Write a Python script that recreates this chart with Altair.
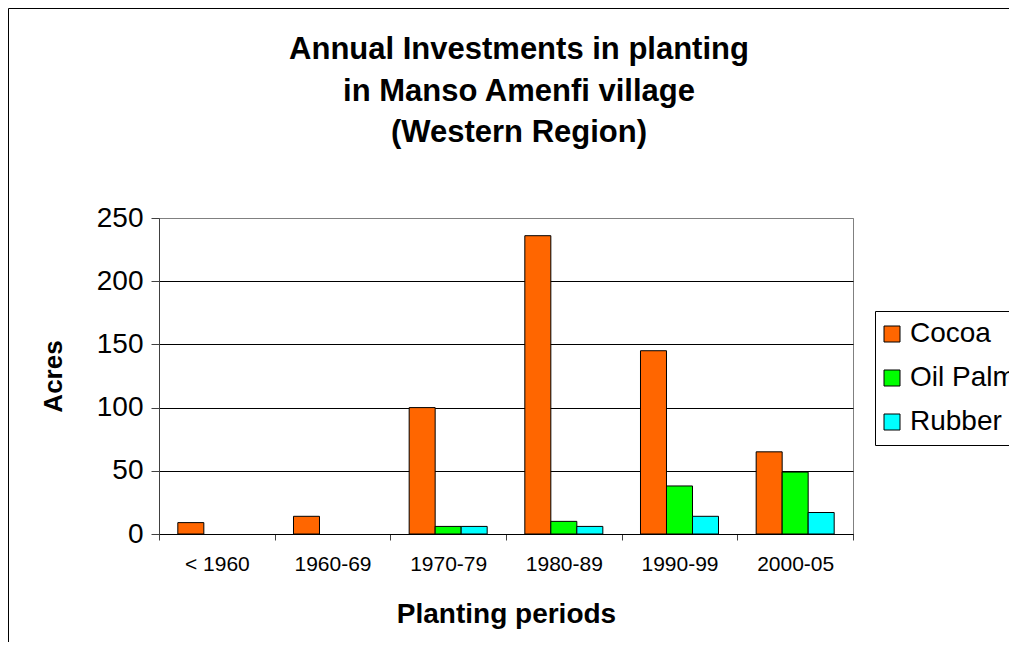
import altair as alt
import pandas as pd

periods = ["< 1960", "1960-69", "1970-79", "1980-89", "1990-99", "2000-05"]
cocoa = [9, 14, 100, 236, 145, 65]
oil_palm = [None, None, 6, 10, 38, 49]
rubber = [None, None, 6, 6, 14, 17]
crops = ["Cocoa", "Oil Palm", "Rubber"]
colors = ["#FF6600", "#00FF00", "#00FFFF"]
y_ticks = [0, 50, 100, 150, 200, 250]
title_lines = ["Annual Investments in planting", "in Manso Amenfi village", "(Western Region)"]

rows = []
for crop, vals in zip(crops, [cocoa, oil_palm, rubber]):
    for p, v in zip(periods, vals):
        if v is not None:
            rows.append({"period": p, "crop": crop, "acres": v})
df = pd.DataFrame(rows)

FONT = "Liberation Sans"

bars = alt.Chart(df).mark_bar(stroke="black", strokeWidth=1).encode(
    x=alt.X(
        "period:N",
        sort=periods,
        scale=alt.Scale(domain=periods, paddingInner=0, paddingOuter=0),
        axis=alt.Axis(
            title="Planting periods",
            labelAngle=0,
            tickBand="extent",
            labelFontSize=21,
            labelColor="black",
            labelPadding=13,
            tickSize=6,
            tickColor="#404040",
            domainColor="black",
            titleFontSize=28,
            titleFontWeight="bold",
            titleColor="black",
            titlePadding=26,
        ),
    ),
    xOffset=alt.XOffset(
        "crop:N",
        sort=crops,
        scale=alt.Scale(domain=crops, paddingInner=0, paddingOuter=0.724),
    ),
    y=alt.Y(
        "acres:Q",
        scale=alt.Scale(domain=[0, 250], nice=False),
        axis=alt.Axis(
            values=y_ticks,
            title="Acres",
            labelFontSize=28,
            labelColor="black",
            labelPadding=8,
            tickSize=8,
            tickColor="#404040",
            domainColor="#404040",
            grid=True,
            gridColor=alt.condition("datum.value == 250", alt.value("#808080"), alt.value("black")),
            titleFontSize=26,
            titleFontWeight="bold",
            titleColor="black",
            titlePadding=30,
        ),
    ),
    color=alt.Color(
        "crop:N",
        sort=crops,
        scale=alt.Scale(domain=crops, range=colors),
        legend=alt.Legend(
            title=None,
            orient="none",
            legendX=716,
            legendY=93,
            symbolType="square",
            symbolSize=256,
            symbolStrokeColor="black",
            symbolStrokeWidth=1,
            symbolOffset=-6,
            labelFontSize=28,
            labelColor="black",
            labelOffset=4,
            rowPadding=16,
            padding=9,
            strokeColor="black",
            fillColor="white",
        ),
    ),
)

frame = alt.Chart(alt.Data(values=[{"k": 1}])).mark_rect(
    fill="white", fillOpacity=0, stroke="black", strokeWidth=1
).encode(
    x=alt.value(-150.5), x2=alt.value(900), y=alt.value(-209.5), y2=alt.value(500)
)

chart = alt.layer(bars, frame).properties(
    width=694,
    height=316,
    padding={"left": 151, "top": 210, "right": 156, "bottom": 108},
    autosize=alt.AutoSizeParams(type="none"),
    title=alt.Title(
        title_lines,
        fontSize=31,
        fontWeight="bold",
        font=FONT,
        color="black",
        lineHeight=41.5,
        anchor="middle",
        frame="group",
        baseline="top",
        dx=13,
        dy=141,
        offset=0,
    ),
).configure(
    font=FONT,
    background="white",
).configure_view(
    stroke="#808080", strokeWidth=1
).configure_axis(
    labelFont=FONT, titleFont=FONT
).configure_legend(
    labelFont=FONT
)

chart.save("out.html", embed_options={"renderer": "svg", "actions": False})
